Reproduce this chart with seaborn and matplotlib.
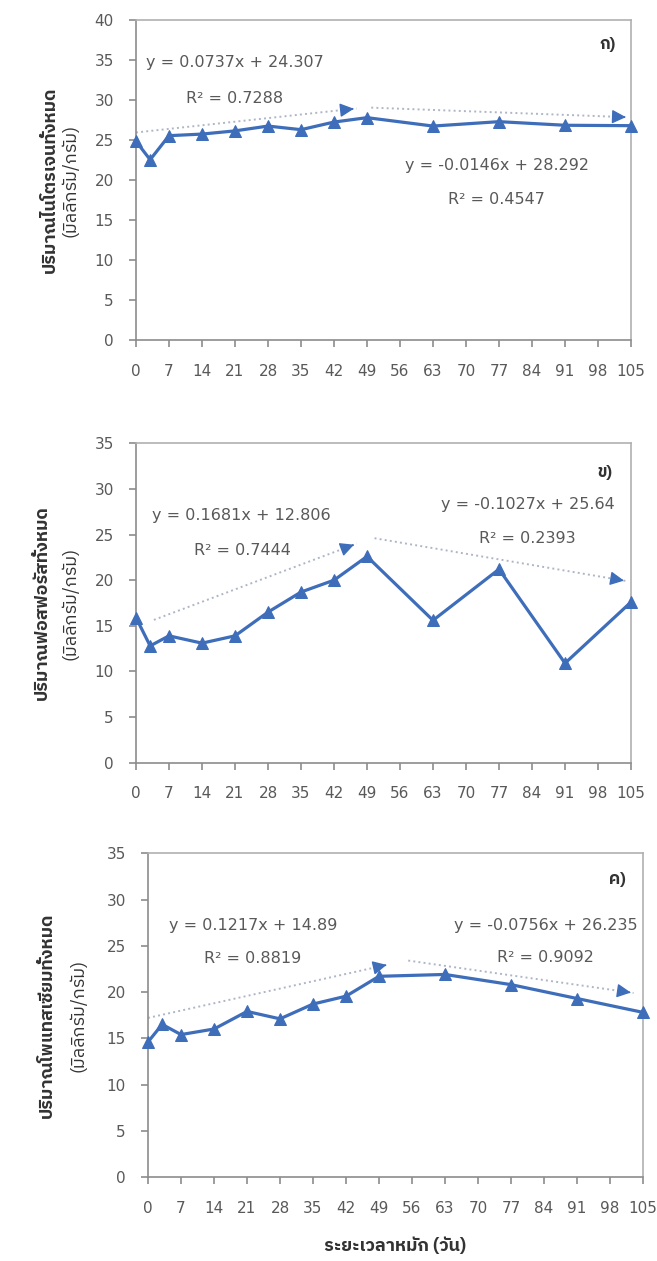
import matplotlib
matplotlib.use('Agg')
import matplotlib.pyplot as plt
from matplotlib import font_manager
import seaborn as sns
import pandas as pd

# composting time (days)
days = [0, 3, 7, 14, 21, 28, 35, 42, 49, 63, 77, 91, 105]
xtick_values = [0, 7, 14, 21, 28, 35, 42, 49, 56, 63, 70, 77, 84, 91, 98, 105]

# total N, P, K (mg/g)
nitrogen = [24.8, 22.5, 25.5, 25.7, 26.1, 26.7, 26.25, 27.2, 27.75, 26.7, 27.25, 26.8, 26.75]
phosphorus = [15.9, 12.8, 13.9, 13.1, 13.9, 16.5, 18.7, 20.0, 22.6, 15.6, 21.2, 10.9, 17.6]
potassium = [14.6, 16.5, 15.4, 16.0, 17.9, 17.1, 18.7, 19.55, 21.7, 21.9, 20.8, 19.3, 17.8]

# trend arrows: (x start, y start, x end, y end)
n_trends = [(0, 25.9, 46.8, 28.9), (49.9, 29.0, 104.5, 27.8)]
p_trends = [(3.8, 15.65, 46.8, 24.0), (50.6, 24.6, 104.1, 19.9)]
k_trends = [(0, 17.2, 51.2, 23.0), (55.2, 23.4, 103.0, 19.9)]

# equation labels: (text, x, y)
n_labels = [('y = 0.0737x + 24.307', 20.9, 34.6), ('R² = 0.7288', 20.9, 30.1),
            ('y = -0.0146x + 28.292', 76.6, 21.8), ('R² = 0.4547', 76.5, 17.5)]
p_labels = [('y = 0.1681x + 12.806', 22.4, 27.1), ('R² = 0.7444', 22.6, 23.3),
            ('y = -0.1027x + 25.64', 83.1, 28.3), ('R² = 0.2393', 83.0, 24.6)]
k_labels = [('y = 0.1217x + 14.89', 22.3, 27.2), ('R² = 0.8819', 22.2, 23.6),
            ('y = -0.0756x + 26.235', 84.4, 27.2), ('R² = 0.9092', 84.4, 23.7)]

panel_tags = ['ก)', 'ข)', 'ค)']
ylabels = ['ปริมาณไนโตรเจนทั้งหมด', 'ปริมาณฟอสฟอรัสทั้งหมด', 'ปริมาณโพแทสเซียมทั้งหมด']
yunit = '(มิลลิกรัม/กรัม)'
xlabel = 'ระยะเวลาหมัก (วัน)'

line_blue = '#3E6DBA'
trend_grey = '#AEB6C6'
text_grey = '#595959'
spine_grey = '#8C8C8C'


def find_thai_font():
    from fontTools.ttLib import TTFont
    found = []
    for f in font_manager.fontManager.ttflist:
        try:
            tt = TTFont(f.fname, fontNumber=0, lazy=True)
            if 0x0E01 in tt.getBestCmap():
                found.append(f.name)
        except Exception:
            pass
    if not found:
        return None
    found = sorted(set(found), key=lambda n: (('Thai' not in n), ('Sans' not in n), n))
    return found[0]


sns.set_style('ticks')
thai_font = find_thai_font()
thai_family = [thai_font, 'DejaVu Sans'] if thai_font else ['DejaVu Sans']
plt.rcParams['font.family'] = ['DejaVu Sans']

W, H = 657, 1261
fig = plt.figure(figsize=(W / 100, H / 100), dpi=100)


def px_axes(left, right, top, bottom):
    return fig.add_axes([left / W, 1 - bottom / H, (right - left) / W, (bottom - top) / H])


panels = [
    dict(box=(136, 631, 19.5, 340), values=nitrogen, ymax=40, trends=n_trends, labels=n_labels,
         tag_pos=(100, 36.9), ylab_x=(50, 71), ylab_y=180),
    dict(box=(136, 631, 443.3, 762.7), values=phosphorus, ymax=35, trends=p_trends, labels=p_labels,
         tag_pos=(99.4, 31.8), ylab_x=(42, 70), ylab_y=603),
    dict(box=(148, 643, 853.3, 1177), values=potassium, ymax=35, trends=k_trends, labels=k_labels,
         tag_pos=(99.5, 32.2), ylab_x=(47, 78), ylab_y=1015),
]

for i, p in enumerate(panels):
    ax = px_axes(*p['box'])
    df = pd.DataFrame({'day': days, 'value': p['values']})
    sns.lineplot(data=df, x='day', y='value', ax=ax, color=line_blue, linewidth=2.3,
                 marker='^', markersize=8, markeredgecolor=line_blue, zorder=3, clip_on=False)

    for x0, y0, x1, y1 in p['trends']:
        ax.plot([x0, x1], [y0, y1], linestyle=':', color=trend_grey, linewidth=1.4, zorder=2)
        ax.annotate('', xy=(x1, y1), xytext=(x1 - (x1 - x0) * 0.03, y1 - (y1 - y0) * 0.03),
                    arrowprops=dict(arrowstyle='-|>,head_length=0.7,head_width=0.35',
                                    color=line_blue, lw=1, mutation_scale=12), zorder=4)

    for txt, x, y in p['labels']:
        ax.text(x, y, txt, ha='center', va='center', fontsize=11.5, color=text_grey)

    ax.text(p['tag_pos'][0], p['tag_pos'][1], panel_tags[i], ha='center', va='center',
            fontsize=12, fontweight='bold', color='#333333', family=thai_family)

    ax.set_xlim(0, 105)
    ax.set_ylim(0, p['ymax'])
    ax.set_xticks(xtick_values)
    ax.set_yticks(range(0, p['ymax'] + 1, 5))
    ax.set_xlabel('')
    ax.set_ylabel('')
    ax.tick_params(axis='both', direction='out', length=5, width=1.2, color=spine_grey,
                   labelcolor=text_grey, labelsize=11)
    ax.tick_params(axis='x', pad=12)
    ax.tick_params(axis='y', pad=11)
    for s in ax.spines.values():
        s.set_visible(True)
        s.set_color(spine_grey)
        s.set_linewidth(1.2)
    ax.spines['top'].set_color('#B0B0B0')
    ax.spines['right'].set_color('#B0B0B0')

    fig.text(p['ylab_x'][0] / W, 1 - p['ylab_y'] / H, ylabels[i], rotation=90, ha='center',
             va='center', fontsize=13, fontweight='bold', color='#333333', family=thai_family)
    fig.text(p['ylab_x'][1] / W, 1 - p['ylab_y'] / H, yunit, rotation=90, ha='center',
             va='center', fontsize=13, color='#333333', family=thai_family)

fig.text(395 / W, 1 - 1246 / H, xlabel, ha='center', va='center', fontsize=13,
         fontweight='bold', color='#333333', family=thai_family)

fig.savefig('out.png', dpi=100, facecolor='white')
